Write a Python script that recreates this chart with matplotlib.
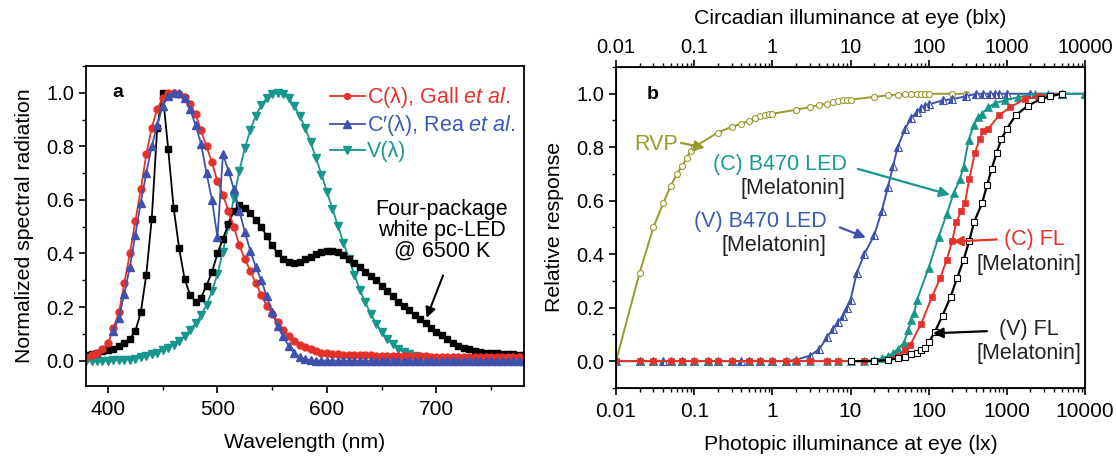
"""Spectral sensitivity curves (a) and melatonin/RVP response vs illuminance (b)."""

import numpy as np
import matplotlib

matplotlib.use("Agg")
import matplotlib.pyplot as plt
from matplotlib.ticker import MultipleLocator, LogLocator, NullFormatter, FixedLocator

plt.rcParams["font.family"] = ["Liberation Sans", "DejaVu Sans"]
plt.rcParams["mathtext.fontset"] = "custom"
plt.rcParams["mathtext.rm"] = "Liberation Sans"
plt.rcParams["mathtext.it"] = "Liberation Sans:italic"

# ---- panel a: spectra, 380-780 nm in 5 nm steps ----
wavelength = np.arange(380, 785, 5)

gall_c = [
    0.015, 0.02, 0.03, 0.045, 0.065, 0.12, 0.18, 0.29, 0.40, 0.52,
    0.64, 0.77, 0.87, 0.94, 0.98, 1.00, 1.00, 0.995, 0.985, 0.96,
    0.92, 0.86, 0.80, 0.74, 0.67, 0.62, 0.56, 0.50, 0.43, 0.38,
    0.335, 0.29, 0.245, 0.205, 0.175, 0.145, 0.115, 0.09, 0.075, 0.06,
    0.05, 0.042, 0.035, 0.03, 0.027, 0.025, 0.023, 0.022, 0.021, 0.02,
    0.02, 0.019, 0.019, 0.018, 0.018, 0.018, 0.017, 0.017, 0.017, 0.016,
    0.016, 0.016, 0.016, 0.015, 0.015, 0.015, 0.015, 0.015, 0.015, 0.015,
    0.015, 0.015, 0.015, 0.015, 0.015, 0.015, 0.015, 0.015, 0.015, 0.015,
    0.015,
]

rea_wavelength = np.arange(405, 785, 5)
rea_c = [
    0.11, 0.16, 0.25, 0.35, 0.47, 0.59, 0.70, 0.80, 0.88, 0.95,
    0.99, 1.00, 1.00, 0.98, 0.94, 0.88, 0.81, 0.70, 0.60, 0.46,
    0.77, 0.71, 0.64, 0.56, 0.48, 0.41, 0.35, 0.30, 0.24, 0.18,
    0.13, 0.09, 0.055, 0.03, 0.013, 0.005, 0.002,
    0, 0, 0, 0, 0, 0, 0, 0, 0, 0,
    0, 0, 0, 0, 0, 0, 0, 0, 0, 0,
    0, 0, 0, 0, 0, 0, 0, 0, 0, 0,
    0, 0, 0, 0, 0, 0, 0, 0, 0,
]

photopic_v = [
    0.0, 0.0, 0.0, 0.0, 0.0, 0.001, 0.001, 0.002, 0.004, 0.007,
    0.012, 0.017, 0.023, 0.030, 0.038, 0.048, 0.060, 0.074, 0.091, 0.113,
    0.139, 0.169, 0.208, 0.259, 0.323, 0.407, 0.503, 0.608, 0.710, 0.793,
    0.862, 0.915, 0.954, 0.980, 0.995, 1.000, 0.995, 0.979, 0.952, 0.915,
    0.870, 0.816, 0.757, 0.695, 0.631, 0.567, 0.503, 0.441, 0.381, 0.321,
    0.265, 0.217, 0.175, 0.138, 0.107, 0.082, 0.061, 0.045, 0.032, 0.023,
    0.017, 0.012, 0.008, 0.006, 0.004, 0.003, 0.002, 0.001, 0.001, 0.001,
    0.001, 0.0, 0.0, 0.0, 0.0, 0.0, 0.0, 0.0, 0.0, 0.0,
    0.0,
]

led_6500k = [
    0.02, 0.025, 0.03, 0.035, 0.04, 0.045, 0.055, 0.065, 0.08, 0.11,
    0.18, 0.32, 0.53, 0.87, 1.00, 0.79, 0.57, 0.42, 0.305, 0.245,
    0.22, 0.235, 0.28, 0.33, 0.40, 0.455, 0.51, 0.56, 0.58, 0.57,
    0.55, 0.525, 0.50, 0.465, 0.43, 0.40, 0.38, 0.368, 0.365, 0.368,
    0.378, 0.388, 0.398, 0.405, 0.41, 0.41, 0.405, 0.395, 0.38, 0.365,
    0.35, 0.33, 0.315, 0.30, 0.28, 0.26, 0.24, 0.22, 0.205, 0.19,
    0.17, 0.155, 0.14, 0.12, 0.105, 0.095, 0.08, 0.065, 0.056, 0.048,
    0.042, 0.037, 0.033, 0.03, 0.028, 0.027, 0.026, 0.025, 0.023, 0.022,
    0.021,
]

# ---- panel b: response vs photopic illuminance (lx) ----
rvp_lux = [0.01, 0.02, 0.03, 0.04, 0.05, 0.06, 0.07, 0.08, 0.09, 0.1,
           0.2, 0.3, 0.4, 0.5, 0.6, 0.7, 0.8, 0.9, 1,
           2, 3, 4, 5, 6, 7, 8, 9, 10,
           20, 30, 40, 50, 60, 70, 80, 90, 100, 200, 300]
rvp_resp = [0, 0.33, 0.50, 0.59, 0.655, 0.70, 0.73, 0.76, 0.785, 0.80,
            0.855, 0.876, 0.888, 0.898, 0.908, 0.915, 0.92, 0.923, 0.925,
            0.94, 0.95, 0.958, 0.963, 0.968, 0.972, 0.975, 0.977, 0.978,
            0.988, 0.994, 0.997, 1.0, 1.0, 1.0, 1.0, 1.0, 1.0, 1.0, 1.0]

v_b470_lux = [0.01, 0.02, 0.03, 0.04, 0.05, 0.07, 0.1, 0.15, 0.2, 0.3, 0.4, 0.5, 0.7, 1, 1.5,
              2, 3, 4, 5, 6, 7, 8, 9, 10,
              12, 15, 20, 25, 30, 35, 40, 50, 60, 70, 80, 90, 100,
              150, 200, 300, 400, 500, 600, 700, 800, 1000, 2000, 5000, 10000]
v_b470_resp = [0, 0, 0, 0, 0, 0, 0, 0, 0, 0, 0, 0, 0, 0, 0,
               0.005, 0.02, 0.045, 0.09, 0.12, 0.145, 0.17, 0.2, 0.23,
               0.33, 0.40, 0.47, 0.56, 0.65, 0.73, 0.80, 0.87, 0.91, 0.93, 0.945, 0.955, 0.96,
               0.975, 0.98, 0.99, 1, 1, 1, 1, 1, 1, 1, 1, 1]

c_b470_lux = [0.01, 0.02, 0.03, 0.05, 0.07, 0.1, 0.15, 0.2, 0.3, 0.5, 0.7, 1, 1.5, 2, 3, 5, 7, 10, 15,
              20, 25, 30, 35, 40, 48, 55, 60, 65, 71,
              100, 134, 170, 208, 250, 279, 324, 374, 433, 478, 581, 706, 946,
              1400, 2280, 3370, 5000, 10000]
c_b470_resp = [0] * 19 + [
    0.005, 0.01, 0.02, 0.03, 0.045, 0.068, 0.118, 0.155, 0.18, 0.23,
    0.35, 0.466, 0.55, 0.627, 0.68, 0.727, 0.826, 0.882, 0.913, 0.925, 0.95, 0.965, 0.975,
    0.987, 1.0, 1.0, 1.0, 1.0]

c_fl_lux = [0.01, 0.02, 0.03, 0.05, 0.07, 0.1, 0.15, 0.2, 0.3, 0.5, 0.7, 1, 1.5, 2, 3, 5, 7, 10, 15,
            20, 30, 40, 50, 58,
            80, 110, 140, 170, 200, 225, 260, 290, 330, 390, 450, 500, 580,
            800, 1100, 1700, 2500, 5000]
c_fl_resp = [0] * 19 + [
    0.0, 0.005, 0.02, 0.04, 0.06,
    0.14, 0.24, 0.31, 0.38, 0.45, 0.52, 0.56, 0.59, 0.68, 0.78, 0.83, 0.86, 0.87,
    0.92, 0.95, 0.98, 0.99, 1.0]

v_fl_lux = [10, 20, 30, 40, 50, 60, 70, 80, 90, 100,
            120, 150, 190, 230, 280, 330, 380, 480, 560, 640, 740, 850, 1000,
            1300, 1850, 2700, 3600, 5000]
v_fl_resp = [0, 0, 0.005, 0.01, 0.015, 0.025, 0.03, 0.04, 0.05, 0.07,
             0.11, 0.17, 0.24, 0.31, 0.38, 0.45, 0.52, 0.59, 0.66, 0.72, 0.78, 0.83, 0.87,
             0.92, 0.955, 0.98, 0.99, 1.0]

log_ticks = [0.01, 0.1, 1, 10, 100, 1000, 10000]
log_tick_labels = ["0.01", "0.1", "1", "10", "100", "1000", "10000"]

RED = "#e4322b"
BLUE = "#3f51ad"
TEAL = "#17968c"
OLIVE = "#9a9a2c"
TEXT_BLUE = "#3a5bb5"
TEXT_TEAL = "#1a9990"
TEXT_DARK = "#222222"

TICK_FS = 14.5
LABEL_FS = 15.3
NOTE_FS = 15.5


def style_ticks(axis):
    axis.tick_params(which="major", direction="out", length=5, width=1.2, labelsize=TICK_FS)
    axis.tick_params(which="minor", direction="out", length=3, width=1.0)
    axis.tick_params(top=False, right=False, which="both")
    axis.tick_params(axis="x", labelsize=15, pad=5)
    for spine in axis.spines.values():
        spine.set_linewidth(1.3)


fig = plt.figure(figsize=(11.16, 4.59), dpi=100)

# ---------------- panel a ----------------
ax = fig.add_axes([0.0771, 0.159, 0.3925, 0.697])
ax.plot(wavelength, photopic_v, color=TEAL, marker="v", markersize=6.3, linewidth=1.3,
        label="V(λ)")
ax.plot(wavelength, led_6500k, color="black", marker="s", markersize=4, linewidth=1.3)
ax.plot(wavelength, gall_c, color=RED, marker="o", markersize=5, linewidth=1.3,
        label=r"C(λ), Gall $\it{et\ al}$.")
ax.plot(rea_wavelength, rea_c, color=BLUE, marker="^", markersize=6.3, linewidth=1.3,
        label=r"C′(λ), Rea $\it{et\ al}$.")

ax.set_xlim(380, 780)
ax.set_ylim(-0.095, 1.1)
ax.xaxis.set_major_locator(MultipleLocator(100))
ax.xaxis.set_minor_locator(MultipleLocator(50))
ax.yaxis.set_major_locator(MultipleLocator(0.2))
ax.yaxis.set_minor_locator(MultipleLocator(0.1))
ax.yaxis.set_major_formatter(matplotlib.ticker.FormatStrFormatter("%.1f"))
style_ticks(ax)
ax.set_xlabel("Wavelength (nm)", fontsize=LABEL_FS, labelpad=10)
ax.set_ylabel("Normalized spectral radiation", fontsize=LABEL_FS, labelpad=9)

handles, labels = ax.get_legend_handles_labels()
order = [1, 2, 0]
leg = ax.legend([handles[i] for i in order], [labels[i] for i in order],
                loc="upper right", bbox_to_anchor=(1.017, 0.99), frameon=False,
                fontsize=NOTE_FS, handlelength=1.6, handletextpad=0.1,
                labelspacing=0.14, borderaxespad=0.35, markerscale=0.85)
for txt, col in zip(leg.get_texts(), [RED, TEXT_BLUE, TEXT_TEAL]):
    txt.set_color(col)

ax.text(0.073, 0.916, "a", transform=ax.transAxes, fontsize=14, fontweight="bold",
        ha="center", va="center")
ax.text(705, 0.486, "Four-package\nwhite pc-LED\n@ 6500 K", fontsize=NOTE_FS,
        ha="center", va="center", linespacing=1.0)
ax.annotate("", xy=(691, 0.16), xytext=(706, 0.318),
            arrowprops=dict(arrowstyle="-|>", color="black", lw=1.5,
                            mutation_scale=15, shrinkA=0, shrinkB=0))

# ---------------- panel b ----------------
bx = fig.add_axes([0.552, 0.155, 0.4203, 0.699])
bx.set_xscale("log")
bx.plot(rvp_lux, rvp_resp, color=OLIVE, marker="o", markersize=4.3, markerfacecolor="white",
        markeredgewidth=0.8, linewidth=1.4)
bx.plot(v_b470_lux, v_b470_resp, color=BLUE, marker="^", markersize=6, fillstyle="left",
        markerfacecoloralt="white", markeredgewidth=0.8, linewidth=1.4)
bx.plot(c_b470_lux, c_b470_resp, color=TEAL, marker="^", markersize=6,
        markeredgewidth=0.5, linewidth=1.4)
bx.plot(c_fl_lux, c_fl_resp, color=RED, marker="s", markersize=4.3,
        markeredgewidth=0.5, linewidth=1.4)
bx.plot(v_fl_lux, v_fl_resp, color="black", marker="s", markersize=4,
        markerfacecolor="white", markeredgewidth=0.8, linewidth=1.6)

bx.set_xlim(0.01, 10000)
bx.set_ylim(-0.1, 1.1)
bx.xaxis.set_major_locator(FixedLocator(log_ticks))
bx.set_xticklabels(log_tick_labels)
bx.xaxis.set_minor_locator(LogLocator(base=10, subs=np.arange(2, 10)))
bx.xaxis.set_minor_formatter(NullFormatter())
bx.yaxis.set_major_locator(MultipleLocator(0.2))
bx.yaxis.set_minor_locator(MultipleLocator(0.1))
bx.yaxis.set_major_formatter(matplotlib.ticker.FormatStrFormatter("%.1f"))
style_ticks(bx)
bx.set_xlabel("Photopic illuminance at eye (lx)", fontsize=LABEL_FS, labelpad=10)
bx.set_ylabel("Relative response", fontsize=LABEL_FS, labelpad=9)

top = bx.twiny()
top.set_xscale("log")
top.set_xlim(0.01, 10000)
top.xaxis.set_major_locator(FixedLocator(log_ticks))
top.set_xticklabels(log_tick_labels)
top.xaxis.set_minor_locator(LogLocator(base=10, subs=np.arange(2, 10)))
top.xaxis.set_minor_formatter(NullFormatter())
top.tick_params(which="major", direction="out", length=5, width=1.2, labelsize=TICK_FS, pad=2)
top.tick_params(which="minor", direction="out", length=3, width=1.0)
top.set_xlabel("Circadian illuminance at eye (blx)", fontsize=LABEL_FS, labelpad=10)

bx.text(0.077, 0.915, "b", transform=bx.transAxes, fontsize=14, fontweight="bold",
        ha="center", va="center")


def arrow(axis, xy, xytext, color):
    axis.annotate("", xy=xy, xytext=xytext,
                  arrowprops=dict(arrowstyle="-|>", color=color, lw=1.6,
                                  mutation_scale=15, shrinkA=0, shrinkB=0))


bx.text(0.0325, 0.812, "RVP", color=OLIVE, fontsize=NOTE_FS, ha="center", va="center")
arrow(bx, (0.137, 0.798), (0.068, 0.816), OLIVE)

bx.text(9.0, 0.734, "(C) B470 LED", color=TEXT_TEAL, fontsize=NOTE_FS, ha="right", va="center")
bx.text(8.5, 0.645, "[Melatonin]", color=TEXT_DARK, fontsize=NOTE_FS, ha="right", va="center")
arrow(bx, (186, 0.622), (12.4, 0.719), TEAL)

bx.text(5.0, 0.522, "(V) B470 LED", color=TEXT_BLUE, fontsize=NOTE_FS, ha="right", va="center")
bx.text(4.9, 0.432, "[Melatonin]", color=TEXT_DARK, fontsize=NOTE_FS, ha="right", va="center")
arrow(bx, (15.7, 0.462), (7.3, 0.50), BLUE)

bx.text(2280, 0.455, "(C) FL", color=RED, fontsize=NOTE_FS, ha="center", va="center")
bx.text(1900, 0.36, "[Melatonin]", color=TEXT_DARK, fontsize=NOTE_FS, ha="center", va="center")
arrow(bx, (204, 0.447), (740, 0.455), RED)

bx.text(1900, 0.119, "(V) FL", color=TEXT_DARK, fontsize=NOTE_FS, ha="center", va="center")
bx.text(1900, 0.03, "[Melatonin]", color=TEXT_DARK, fontsize=NOTE_FS, ha="center", va="center")
arrow(bx, (113, 0.104), (555, 0.112), "black")

fig.savefig("out.png", dpi=100)
